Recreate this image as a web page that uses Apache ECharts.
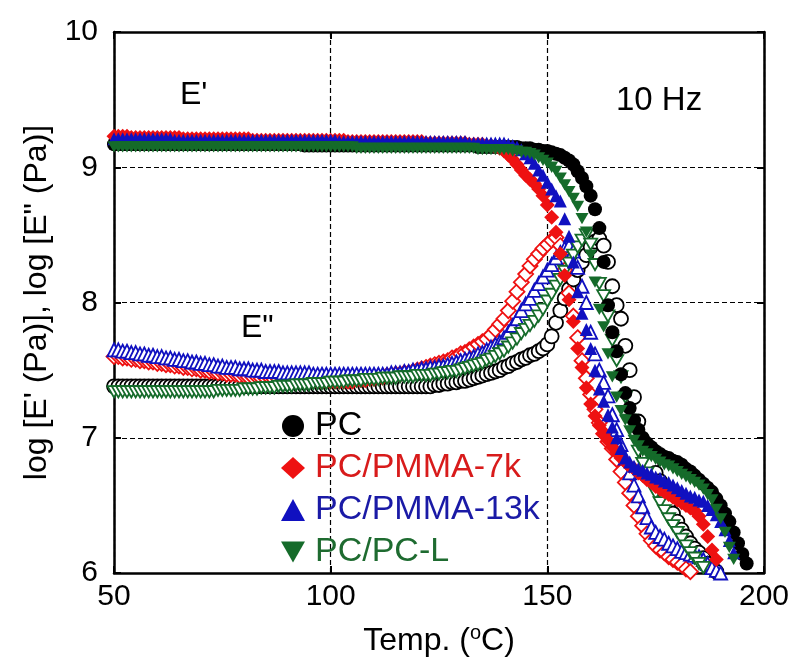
<!DOCTYPE html>
<html>
<head>
<meta charset="utf-8">
<script src="https://cdn.jsdelivr.net/npm/echarts@6/dist/echarts.min.js"></script>
<style>html,body{margin:0;padding:0;background:#fff}#c{width:797px;height:665px}</style>
</head>
<body>
<div id="c"></div>
<script>
// ---- data: [temperature (°C), log value] ----
const seriesNames = ['PC', 'PC/PMMA-7k', 'PC/PMMA-13k', 'PC/PC-L'];
const xTicks = [50, 100, 150, 200];
const yTicks = [6, 7, 8, 9, 10];

// E' (storage modulus), filled markers
const pcE1 = [[50,9.17],[51,9.17],[52,9.17],[53,9.17],[54,9.17],[55,9.17],[56,9.17],[57,9.17],[58,9.17],[59,9.17],[60,9.17],[61,9.17],[62,9.17],[63,9.17],[64,9.17],[65,9.17],[66,9.17],[67,9.17],[68,9.17],[69,9.17],[70,9.17],[71,9.17],[72,9.17],[73,9.17],[74,9.17],[75,9.17],[76,9.17],[77,9.17],[78,9.17],[79,9.17],[80,9.17],[81,9.17],[82,9.17],[83,9.17],[84,9.17],[85,9.17],[86,9.17],[87,9.17],[88,9.17],[89,9.17],[90,9.17],[91,9.17],[92,9.17],[93,9.17],[94,9.16],[95,9.16],[96,9.16],[97,9.16],[98,9.16],[99,9.16],[100,9.16],[101,9.16],[102,9.16],[103,9.16],[104,9.16],[105,9.16],[106,9.16],[107,9.16],[108,9.16],[109,9.16],[110,9.16],[111,9.16],[112,9.16],[113,9.16],[114,9.16],[115,9.16],[116,9.16],[117,9.16],[118,9.16],[119,9.16],[120,9.16],[121,9.16],[122,9.16],[123,9.16],[124,9.16],[125,9.16],[126,9.16],[127,9.16],[128,9.16],[129,9.16],[130,9.16],[131,9.16],[132,9.16],[133,9.16],[134,9.15],[135,9.15],[136,9.15],[137,9.15],[138,9.15],[139,9.15],[140,9.15],[141,9.15],[142,9.15],[143,9.15],[144,9.14],[145,9.14],[146,9.14],[147,9.13],[148,9.13],[149,9.12],[150,9.12],[151,9.11],[152,9.10],[153,9.09],[154,9.07],[155,9.05],[156,9.02],[157,8.97],[158,8.92],[159,8.86],[160,8.79],[161,8.69],[162,8.55],[163,8.30],[164,7.98],[165,7.78],[166,7.64],[167,7.47],[168,7.33],[169,7.22],[170,7.13],[171,7.06],[172,7.00],[173,6.96],[174,6.93],[175,6.90],[176,6.88],[177,6.86],[178,6.85],[179,6.83],[180,6.82],[181,6.80],[182,6.77],[183,6.75],[184,6.72],[185,6.69],[186,6.66],[187,6.63],[188,6.60],[189,6.55],[190,6.50],[191,6.44],[192,6.38],[193,6.30],[194,6.22],[195,6.14],[196,6.07]];
const pmma7kE1 = [[50,9.23],[51,9.23],[52,9.23],[53,9.23],[54,9.22],[55,9.22],[56,9.22],[57,9.22],[58,9.22],[59,9.22],[60,9.22],[61,9.22],[62,9.22],[63,9.22],[64,9.22],[65,9.22],[66,9.21],[67,9.21],[68,9.21],[69,9.21],[70,9.21],[71,9.21],[72,9.21],[73,9.21],[74,9.21],[75,9.21],[76,9.21],[77,9.21],[78,9.21],[79,9.21],[80,9.21],[81,9.21],[82,9.20],[83,9.20],[84,9.20],[85,9.20],[86,9.20],[87,9.20],[88,9.20],[89,9.20],[90,9.20],[91,9.20],[92,9.20],[93,9.20],[94,9.20],[95,9.20],[96,9.20],[97,9.20],[98,9.20],[99,9.20],[100,9.20],[101,9.20],[102,9.20],[103,9.20],[104,9.19],[105,9.19],[106,9.19],[107,9.19],[108,9.19],[109,9.19],[110,9.19],[111,9.19],[112,9.19],[113,9.19],[114,9.19],[115,9.19],[116,9.19],[117,9.19],[118,9.19],[119,9.19],[120,9.19],[121,9.19],[122,9.18],[123,9.18],[124,9.18],[125,9.18],[126,9.18],[127,9.18],[128,9.18],[129,9.18],[130,9.18],[131,9.18],[132,9.17],[133,9.17],[134,9.17],[135,9.17],[136,9.16],[137,9.16],[138,9.15],[139,9.14],[140,9.12],[141,9.09],[142,9.06],[143,9.02],[144,8.98],[145,8.94],[146,8.91],[147,8.88],[148,8.84],[149,8.79],[150,8.72],[151,8.63],[152,8.52],[153,8.36],[154,8.20],[155,8.02],[156,7.86],[157,7.66],[158,7.52],[159,7.37],[160,7.25],[161,7.16],[162,7.09],[163,7.03],[164,6.98],[165,6.93],[166,6.89],[167,6.85],[168,6.82],[169,6.79],[170,6.77],[171,6.74],[172,6.72],[173,6.69],[174,6.67],[175,6.64],[176,6.62],[177,6.60],[178,6.58],[179,6.56],[180,6.54],[181,6.52],[182,6.50],[183,6.48],[184,6.46],[185,6.42],[186,6.36],[187,6.27],[188,6.17],[189,6.10]];
const pmma13kE1 = [[50,9.21],[51,9.21],[52,9.21],[53,9.21],[54,9.21],[55,9.21],[56,9.21],[57,9.21],[58,9.21],[59,9.21],[60,9.21],[61,9.21],[62,9.21],[63,9.21],[64,9.20],[65,9.20],[66,9.20],[67,9.20],[68,9.20],[69,9.20],[70,9.20],[71,9.20],[72,9.20],[73,9.20],[74,9.20],[75,9.20],[76,9.20],[77,9.20],[78,9.20],[79,9.20],[80,9.20],[81,9.20],[82,9.20],[83,9.20],[84,9.20],[85,9.20],[86,9.20],[87,9.20],[88,9.20],[89,9.20],[90,9.20],[91,9.20],[92,9.20],[93,9.20],[94,9.20],[95,9.20],[96,9.20],[97,9.20],[98,9.20],[99,9.20],[100,9.20],[101,9.20],[102,9.19],[103,9.19],[104,9.19],[105,9.19],[106,9.19],[107,9.19],[108,9.19],[109,9.19],[110,9.19],[111,9.19],[112,9.19],[113,9.19],[114,9.19],[115,9.19],[116,9.19],[117,9.19],[118,9.19],[119,9.19],[120,9.19],[121,9.19],[122,9.19],[123,9.19],[124,9.19],[125,9.19],[126,9.19],[127,9.19],[128,9.19],[129,9.19],[130,9.19],[131,9.19],[132,9.18],[133,9.18],[134,9.18],[135,9.18],[136,9.18],[137,9.18],[138,9.18],[139,9.18],[140,9.18],[141,9.17],[142,9.16],[143,9.15],[144,9.13],[145,9.10],[146,9.07],[147,9.03],[148,8.98],[149,8.94],[150,8.89],[151,8.84],[152,8.79],[153,8.75],[154,8.62],[155,8.49],[156,8.30],[157,8.08],[158,7.92],[159,7.80],[160,7.66],[161,7.50],[162,7.36],[163,7.27],[164,7.17],[165,7.08],[166,7.00],[167,6.92],[168,6.85],[169,6.82],[170,6.79],[171,6.77],[172,6.76],[173,6.74],[174,6.73],[175,6.71],[176,6.70],[177,6.68],[178,6.67],[179,6.65],[180,6.63],[181,6.61],[182,6.59],[183,6.57],[184,6.56],[185,6.54],[186,6.53],[187,6.50],[188,6.47],[189,6.43],[190,6.38],[191,6.32],[192,6.24],[193,6.15]];
const pclE1 = [[50,9.15],[51,9.15],[52,9.15],[53,9.15],[54,9.15],[55,9.15],[56,9.15],[57,9.15],[58,9.15],[59,9.15],[60,9.15],[61,9.15],[62,9.15],[63,9.15],[64,9.15],[65,9.15],[66,9.15],[67,9.15],[68,9.15],[69,9.15],[70,9.15],[71,9.15],[72,9.15],[73,9.15],[74,9.15],[75,9.15],[76,9.15],[77,9.15],[78,9.15],[79,9.15],[80,9.15],[81,9.15],[82,9.15],[83,9.15],[84,9.15],[85,9.15],[86,9.15],[87,9.15],[88,9.15],[89,9.15],[90,9.15],[91,9.15],[92,9.15],[93,9.15],[94,9.15],[95,9.15],[96,9.15],[97,9.15],[98,9.15],[99,9.15],[100,9.15],[101,9.15],[102,9.15],[103,9.15],[104,9.15],[105,9.15],[106,9.14],[107,9.14],[108,9.14],[109,9.14],[110,9.14],[111,9.14],[112,9.14],[113,9.14],[114,9.14],[115,9.14],[116,9.14],[117,9.14],[118,9.14],[119,9.14],[120,9.14],[121,9.14],[122,9.14],[123,9.14],[124,9.14],[125,9.14],[126,9.14],[127,9.14],[128,9.14],[129,9.14],[130,9.14],[131,9.14],[132,9.14],[133,9.14],[134,9.13],[135,9.13],[136,9.13],[137,9.13],[138,9.13],[139,9.13],[140,9.13],[141,9.13],[142,9.12],[143,9.12],[144,9.11],[145,9.11],[146,9.10],[147,9.09],[148,9.07],[149,9.05],[150,9.03],[151,9.00],[152,8.97],[153,8.92],[154,8.87],[155,8.82],[156,8.77],[157,8.71],[158,8.62],[159,8.52],[160,8.35],[161,8.15],[162,7.95],[163,7.82],[164,7.62],[165,7.45],[166,7.30],[167,7.20],[168,7.13],[169,7.05],[170,6.98],[171,6.94],[172,6.90],[173,6.88],[174,6.86],[175,6.84],[176,6.82],[177,6.80],[178,6.79],[179,6.77],[180,6.75],[181,6.73],[182,6.71],[183,6.69],[184,6.67],[185,6.65],[186,6.62],[187,6.58],[188,6.54],[189,6.47],[190,6.40],[191,6.30],[192,6.19],[193,6.10]];

// E'' (loss modulus), open markers
const pcE2 = [[50,7.38],[51,7.38],[52,7.38],[53,7.38],[54,7.38],[55,7.38],[56,7.38],[57,7.38],[58,7.38],[59,7.38],[60,7.38],[61,7.38],[62,7.38],[63,7.38],[64,7.38],[65,7.38],[66,7.38],[67,7.38],[68,7.38],[69,7.38],[70,7.38],[71,7.38],[72,7.38],[73,7.38],[74,7.38],[75,7.38],[76,7.38],[77,7.38],[78,7.38],[79,7.38],[80,7.38],[81,7.38],[82,7.38],[83,7.38],[84,7.38],[85,7.38],[86,7.38],[87,7.38],[88,7.38],[89,7.38],[90,7.38],[91,7.38],[92,7.38],[93,7.38],[94,7.38],[95,7.38],[96,7.38],[97,7.38],[98,7.38],[99,7.38],[100,7.38],[101,7.38],[102,7.38],[103,7.38],[104,7.38],[105,7.38],[106,7.38],[107,7.38],[108,7.38],[109,7.38],[110,7.38],[111,7.38],[112,7.38],[113,7.38],[114,7.38],[115,7.38],[116,7.38],[117,7.38],[118,7.38],[119,7.38],[120,7.38],[121,7.38],[122,7.38],[123,7.38],[124,7.39],[125,7.39],[126,7.40],[127,7.40],[128,7.41],[129,7.41],[130,7.42],[131,7.42],[132,7.43],[133,7.44],[134,7.45],[135,7.46],[136,7.47],[137,7.48],[138,7.49],[139,7.50],[140,7.52],[141,7.53],[142,7.55],[143,7.56],[144,7.58],[145,7.59],[146,7.61],[147,7.62],[148,7.64],[149,7.66],[150,7.69],[151,7.75],[152,7.85],[153,7.94],[154,8.03],[155,8.10],[156,8.17],[157,8.24],[158,8.30],[159,8.35],[160,8.41],[161,8.45],[162,8.47],[163,8.42],[164,8.30],[165,8.12],[166,7.98],[167,7.88],[168,7.68],[169,7.50],[170,7.30],[171,7.12],[172,6.98],[173,6.87],[174,6.80],[175,6.74],[176,6.68],[177,6.60],[178,6.52],[179,6.44],[180,6.38],[181,6.32],[182,6.27],[183,6.22],[184,6.18],[185,6.15],[186,6.11],[187,6.07],[188,6.04],[189,6.01]];
const pmma7kE2 = [[50,7.60],[51,7.60],[52,7.59],[53,7.59],[54,7.58],[55,7.58],[56,7.57],[57,7.57],[58,7.56],[59,7.56],[60,7.55],[61,7.55],[62,7.54],[63,7.54],[64,7.53],[65,7.53],[66,7.52],[67,7.52],[68,7.51],[69,7.51],[70,7.50],[71,7.50],[72,7.49],[73,7.49],[74,7.48],[75,7.48],[76,7.47],[77,7.47],[78,7.47],[79,7.46],[80,7.46],[81,7.45],[82,7.45],[83,7.45],[84,7.44],[85,7.44],[86,7.44],[87,7.43],[88,7.43],[89,7.43],[90,7.43],[91,7.42],[92,7.42],[93,7.42],[94,7.42],[95,7.42],[96,7.42],[97,7.42],[98,7.42],[99,7.42],[100,7.42],[101,7.42],[102,7.42],[103,7.42],[104,7.42],[105,7.42],[106,7.43],[107,7.43],[108,7.43],[109,7.44],[110,7.44],[111,7.45],[112,7.45],[113,7.46],[114,7.46],[115,7.47],[116,7.47],[117,7.48],[118,7.48],[119,7.49],[120,7.50],[121,7.51],[122,7.52],[123,7.53],[124,7.54],[125,7.55],[126,7.56],[127,7.57],[128,7.59],[129,7.60],[130,7.62],[131,7.63],[132,7.65],[133,7.67],[134,7.69],[135,7.71],[136,7.73],[137,7.76],[138,7.80],[139,7.84],[140,7.88],[141,7.94],[142,8.01],[143,8.08],[144,8.15],[145,8.21],[146,8.27],[147,8.32],[148,8.36],[149,8.40],[150,8.43],[151,8.46],[152,8.48],[153,8.42],[154,8.24],[155,8.07],[156,7.90],[157,7.74],[158,7.57],[159,7.44],[160,7.32],[161,7.21],[162,7.11],[163,7.03],[164,6.97],[165,6.92],[166,6.84],[167,6.75],[168,6.67],[169,6.59],[170,6.50],[171,6.42],[172,6.35],[173,6.29],[174,6.24],[175,6.20],[176,6.17],[177,6.15],[178,6.12],[179,6.10],[180,6.08],[181,6.06],[182,6.03],[183,6.01]];
const pmma13kE2 = [[50,7.65],[51,7.65],[52,7.64],[53,7.64],[54,7.63],[55,7.63],[56,7.62],[57,7.62],[58,7.61],[59,7.61],[60,7.60],[61,7.60],[62,7.59],[63,7.59],[64,7.58],[65,7.58],[66,7.57],[67,7.57],[68,7.56],[69,7.56],[70,7.55],[71,7.55],[72,7.54],[73,7.54],[74,7.53],[75,7.53],[76,7.52],[77,7.52],[78,7.52],[79,7.51],[80,7.51],[81,7.51],[82,7.50],[83,7.50],[84,7.50],[85,7.49],[86,7.49],[87,7.49],[88,7.49],[89,7.48],[90,7.48],[91,7.48],[92,7.48],[93,7.48],[94,7.48],[95,7.48],[96,7.47],[97,7.47],[98,7.47],[99,7.47],[100,7.47],[101,7.47],[102,7.47],[103,7.47],[104,7.47],[105,7.47],[106,7.47],[107,7.47],[108,7.47],[109,7.47],[110,7.47],[111,7.47],[112,7.47],[113,7.47],[114,7.48],[115,7.48],[116,7.48],[117,7.49],[118,7.49],[119,7.50],[120,7.50],[121,7.51],[122,7.51],[123,7.52],[124,7.52],[125,7.53],[126,7.53],[127,7.54],[128,7.55],[129,7.56],[130,7.57],[131,7.58],[132,7.59],[133,7.60],[134,7.62],[135,7.63],[136,7.65],[137,7.67],[138,7.69],[139,7.71],[140,7.74],[141,7.78],[142,7.83],[143,7.88],[144,7.94],[145,7.99],[146,8.03],[147,8.09],[148,8.14],[149,8.19],[150,8.24],[151,8.28],[152,8.33],[153,8.37],[154,8.40],[155,8.42],[156,8.38],[157,8.26],[158,8.12],[159,8.00],[160,7.78],[161,7.62],[162,7.50],[163,7.41],[164,7.31],[165,7.17],[166,7.06],[167,6.95],[168,6.85],[169,6.74],[170,6.65],[171,6.57],[172,6.49],[173,6.41],[174,6.34],[175,6.30],[176,6.27],[177,6.25],[178,6.22],[179,6.20],[180,6.18],[181,6.16],[182,6.15],[183,6.14],[184,6.13],[185,6.12],[186,6.10],[187,6.07],[188,6.04],[189,6.02],[190,6.00]];
const pclE2 = [[50,7.34],[51,7.34],[52,7.34],[53,7.34],[54,7.34],[55,7.34],[56,7.34],[57,7.34],[58,7.34],[59,7.34],[60,7.34],[61,7.34],[62,7.34],[63,7.34],[64,7.34],[65,7.34],[66,7.34],[67,7.34],[68,7.34],[69,7.34],[70,7.34],[71,7.34],[72,7.34],[73,7.34],[74,7.35],[75,7.35],[76,7.35],[77,7.35],[78,7.35],[79,7.35],[80,7.36],[81,7.36],[82,7.36],[83,7.36],[84,7.37],[85,7.37],[86,7.37],[87,7.37],[88,7.38],[89,7.38],[90,7.38],[91,7.38],[92,7.39],[93,7.39],[94,7.39],[95,7.39],[96,7.40],[97,7.40],[98,7.40],[99,7.40],[100,7.41],[101,7.41],[102,7.41],[103,7.41],[104,7.42],[105,7.42],[106,7.42],[107,7.42],[108,7.43],[109,7.43],[110,7.43],[111,7.43],[112,7.44],[113,7.44],[114,7.44],[115,7.44],[116,7.45],[117,7.45],[118,7.45],[119,7.45],[120,7.46],[121,7.46],[122,7.46],[123,7.46],[124,7.47],[125,7.47],[126,7.48],[127,7.48],[128,7.49],[129,7.49],[130,7.50],[131,7.51],[132,7.52],[133,7.53],[134,7.54],[135,7.55],[136,7.57],[137,7.58],[138,7.60],[139,7.62],[140,7.64],[141,7.67],[142,7.70],[143,7.73],[144,7.77],[145,7.80],[146,7.83],[147,7.86],[148,7.90],[149,7.95],[150,8.01],[151,8.06],[152,8.12],[153,8.17],[154,8.23],[155,8.29],[156,8.35],[157,8.41],[158,8.46],[159,8.50],[160,8.43],[161,8.28],[162,8.14],[163,8.05],[164,7.90],[165,7.72],[166,7.57],[167,7.45],[168,7.30],[169,7.13],[170,7.02],[171,6.90],[172,6.81],[173,6.74],[174,6.66],[175,6.59],[176,6.52],[177,6.46],[178,6.40],[179,6.35],[180,6.30],[181,6.25],[182,6.20],[183,6.15],[184,6.11],[185,6.07],[186,6.04]];

const colors = ['#000000', '#ee1111', '#1010c0', '#156b2a'];
const legendColors = ['#000000', '#d81b1b', '#1a1aa6', '#1e6b30'];
const downTri = 'path://M0,0L20,0L10,17.32Z';
const symbols = ['circle', 'diamond', 'triangle', downTri];
const sizes = [14, 15, 13, 13];

const FONT = 'Liberation Sans, Arial, sans-serif';
const chart = echarts.init(document.getElementById('c'), null, {renderer: 'canvas'});

const storage = [pcE1, pmma7kE1, pmma13kE1, pclE1];
const loss = [pcE2, pmma7kE2, pmma13kE2, pclE2];
const series = [];
for (let i = 0; i < 4; i++) {
  series.push({
    name: seriesNames[i] + ' E"', type: 'scatter', data: loss[i],
    symbol: symbols[i], symbolSize: sizes[i], symbolKeepAspect: true,
    itemStyle: {color: '#ffffff', borderColor: colors[i], borderWidth: 1.8, opacity: 1},
    z: 2 + i, silent: true
  });
}
for (let i = 0; i < 4; i++) {
  series.push({
    name: seriesNames[i], type: 'scatter', data: storage[i],
    symbol: symbols[i], symbolSize: sizes[i], symbolKeepAspect: true,
    itemStyle: {color: colors[i], opacity: 1},
    z: 6 + i, silent: true
  });
}

const axisLine = {show: true, onZero: false, lineStyle: {color: '#000', width: 2.5}};
const tick = {show: true, inside: true, length: 7, lineStyle: {color: '#000', width: 2}};
const split = {show: true, lineStyle: {color: '#000', width: 1.2, type: [5, 3]}};

chart.setOption({
  animation: false,
  backgroundColor: '#fff',
  grid: {left: 114, right: 33, top: 32, bottom: 92, containLabel: false},
  xAxis: [
    {type: 'value', min: xTicks[0], max: xTicks[xTicks.length - 1], interval: 50, position: 'bottom',
     axisLine, axisTick: tick, splitLine: split,
     axisLabel: {fontSize: 30, color: '#000', fontFamily: FONT, margin: 9},
     name: '{a|Temp. (}{s|o}{a|C)}', nameLocation: 'middle', nameGap: 50,
     nameTextStyle: {rich: {a: {fontSize: 32, color: '#000', fontFamily: FONT}, s: {fontSize: 20, color: '#000', fontFamily: FONT, verticalAlign: 'top', padding: [0, 0, 16, 0]}}}},
    {type: 'value', min: xTicks[0], max: xTicks[xTicks.length - 1], interval: 50, position: 'top',
     axisLine, axisTick: tick, splitLine: {show: false}, axisLabel: {show: false}}
  ],
  yAxis: [
    {type: 'value', min: yTicks[0], max: yTicks[yTicks.length - 1], interval: 1, position: 'left',
     axisLine, axisTick: tick, splitLine: split,
     axisLabel: {fontSize: 30, color: '#000', fontFamily: FONT, margin: 16},
     name: 'log [E\' (Pa)], log [E" (Pa)]', nameLocation: 'middle', nameGap: 61, nameRotate: 90,
     nameTextStyle: {fontSize: 32, color: '#000', fontFamily: FONT}},
    {type: 'value', min: yTicks[0], max: yTicks[yTicks.length - 1], interval: 1, position: 'right',
     axisLine, axisTick: tick, splitLine: {show: false}, axisLabel: {show: false}}
  ],
  legend: {
    show: true, orient: 'vertical', left: 276, top: 404,
    itemWidth: 24, itemHeight: 22, itemGap: 8, selectedMode: false,
    textStyle: {fontSize: 34, fontFamily: FONT, padding: [0, 0, 0, 5]},
    data: seriesNames.map((n, i) => ({name: n, textStyle: {color: legendColors[i]}}))
  },
  graphic: [
    {type: 'text', left: 180, top: 79, style: {text: "E'", fontSize: 32, fontFamily: FONT, fill: '#000'}},
    {type: 'text', left: 616, top: 84, style: {text: '10 Hz', fontSize: 33, fontFamily: FONT, fill: '#000'}},
    {type: 'text', left: 241, top: 312, style: {text: 'E"', fontSize: 32, fontFamily: FONT, fill: '#000'}}
  ],
  series
});
</script>
</body>
</html>
